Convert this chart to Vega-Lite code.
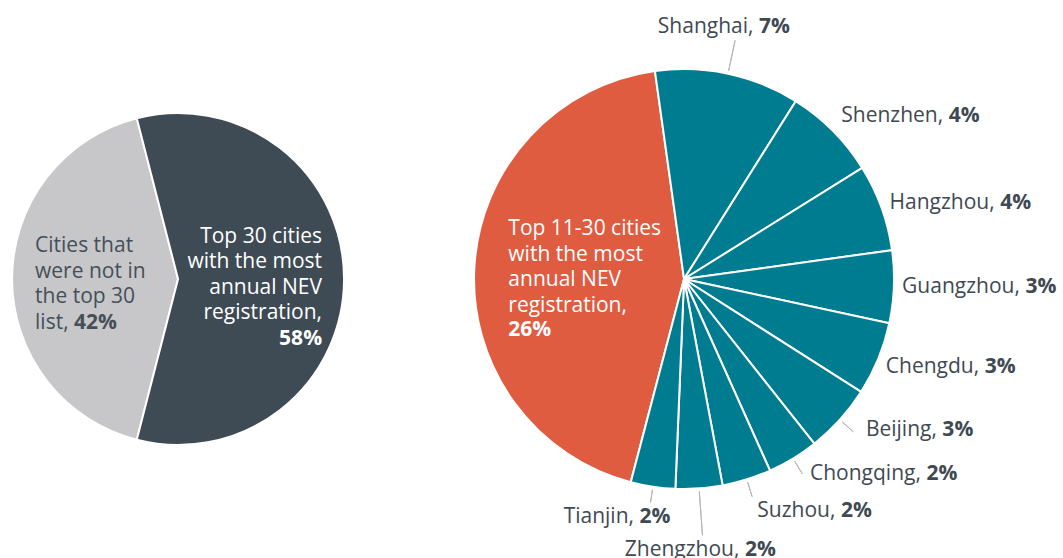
{
  "$schema": "https://vega.github.io/schema/vega-lite/v6.json",
  "width": 1063,
  "height": 558,
  "autosize": {"type": "none"},
  "padding": 0,
  "background": "white",
  "config": {"view": {"stroke": null}, "font": "Open Sans"},
  "params": [
    {"name": "lcx", "expr": "width*0.1675"},
    {"name": "rcx", "expr": "width*0.6435"},
    {"name": "cy", "expr": "height/2"}
  ],
  "datasets": {
    "overall": [
      {"part": "Cities that were not in the top 30 list", "share": 42, "pct": "42%"},
      {"part": "Top 30 cities with the most annual NEV registration", "share": 58, "pct": "58%"}
    ],
    "top30": [
      {"city": "Top 11-30 cities", "share": 25.5, "pct": "26%"},
      {"city": "Shanghai", "share": 6.5, "pct": "7%"},
      {"city": "Shenzhen", "share": 4.2, "pct": "4%"},
      {"city": "Hangzhou", "share": 3.9, "pct": "4%"},
      {"city": "Guangzhou", "share": 3.25, "pct": "3%"},
      {"city": "Chengdu", "share": 3.3, "pct": "3%"},
      {"city": "Beijing", "share": 3.1, "pct": "3%"},
      {"city": "Chongqing", "share": 2.3, "pct": "2%"},
      {"city": "Suzhou", "share": 2.2, "pct": "2%"},
      {"city": "Zhengzhou", "share": 2.1, "pct": "2%"},
      {"city": "Tianjin", "share": 2.0, "pct": "2%"}
    ]
  },
  "resolve": {"scale": {"theta": "independent"}},
  "layer": [
    {
      "data": {"values": [{"edge": "top"}]},
      "mark": {"type": "rule", "stroke": "#c8c8c8", "strokeWidth": 1.5,
        "x": {"expr": "lcx + 166*sin(6.0318)"}, "y": {"expr": "cy - 166*cos(6.0318)"},
        "x2": {"expr": "rcx + 210*sin(6.1441)"}, "y2": {"expr": "cy - 210*cos(6.1441)"}},
      "encoding": {}
    },
    {
      "data": {"values": [{"edge": "bottom"}]},
      "mark": {"type": "rule", "stroke": "#c8c8c8", "strokeWidth": 1.5,
        "x": {"expr": "lcx + 166*sin(3.3929)"}, "y": {"expr": "cy - 166*cos(3.3929)"},
        "x2": {"expr": "rcx + 210*sin(3.3982)"}, "y2": {"expr": "cy - 210*cos(3.3982)"}},
      "encoding": {}
    },
    {
      "data": {"name": "overall"},
      "transform": [{"window": [{"op": "row_number", "as": "rank"}]}],
      "encoding": {
        "theta": {"field": "share", "type": "quantitative", "stack": true, "scale": {"range": [3.3929, 9.6761]}},
        "order": {"field": "rank", "type": "quantitative"},
        "detail": {"field": "part", "type": "nominal"}
      },
      "layer": [
        {
          "mark": {"type": "arc", "radius": 166, "stroke": "white", "strokeWidth": 2, "x": {"expr": "lcx"}, "y": {"expr": "cy"}},
          "encoding": {
            "color": {"condition": {"test": "datum.rank == 1", "value": "#c7c7c9"}, "value": "#3e4a54"}
          }
        },
        {
          "mark": {"type": "text", "text": ["Cities that", "were not in", "the top 30", "list,"], "align": "left", "baseline": "middle",
            "radius": 143, "x": {"expr": "lcx"}, "y": {"expr": "cy"}, "dy": -33, "fontSize": 21, "lineHeight": 25.6, "color": "#454f59"},
          "encoding": {"opacity": {"condition": {"test": "datum.rank == 1", "value": 1}, "value": 0}}
        },
        {
          "mark": {"type": "text", "align": "left", "baseline": "middle", "fontWeight": "bold",
            "radius": 143, "x": {"expr": "lcx"}, "y": {"expr": "cy"}, "dx": 39, "dy": 43.8, "fontSize": 21, "color": "#454f59"},
          "encoding": {"text": {"field": "pct"}, "opacity": {"condition": {"test": "datum.rank == 1", "value": 1}, "value": 0}}
        },
        {
          "mark": {"type": "text", "text": ["Top 30 cities", "with the most", "annual NEV", "registration,"], "align": "right", "baseline": "middle",
            "radius": 144, "x": {"expr": "lcx"}, "y": {"expr": "cy"}, "dy": -42.4, "fontSize": 21, "lineHeight": 25.6, "color": "white"},
          "encoding": {"opacity": {"condition": {"test": "datum.rank == 2", "value": 1}, "value": 0}}
        },
        {
          "mark": {"type": "text", "align": "right", "baseline": "middle", "fontWeight": "bold",
            "radius": 144, "x": {"expr": "lcx"}, "y": {"expr": "cy"}, "dy": 60, "fontSize": 21, "color": "white"},
          "encoding": {"text": {"field": "pct"}, "opacity": {"condition": {"test": "datum.rank == 2", "value": 1}, "value": 0}}
        }
      ]
    },
    {
      "data": {"name": "top30"},
      "transform": [
        {"window": [{"op": "row_number", "as": "rank"}]},
        {"calculate": "datum.city + ','", "as": "name"}
      ],
      "encoding": {
        "theta": {"field": "share", "type": "quantitative", "stack": true, "scale": {"range": [3.3982, 9.6814]}},
        "order": {"field": "rank", "type": "quantitative"},
        "detail": {"field": "city", "type": "nominal"}
      },
      "layer": [
        {
          "mark": {"type": "arc", "radius": 210, "stroke": "white", "strokeWidth": 2, "x": {"expr": "rcx"}, "y": {"expr": "cy"}},
          "encoding": {
            "color": {"condition": {"test": "datum.rank == 1", "value": "#e05c41"}, "value": "#007c91"}
          }
        },
        {
          "mark": {"type": "arc", "radius": 228, "radius2": 213, "padAngle": 2, "fillOpacity": 0, "stroke": "#b5b5b5", "strokeWidth": 1, "x": {"expr": "rcx"}, "y": {"expr": "cy"}},
          "encoding": {"opacity": {"condition": {"test": "indexof(['Beijing','Chongqing','Suzhou'], datum.city) >= 0", "value": 1}, "value": 0}}
        },
        {
          "mark": {"type": "arc", "radius": 244, "radius2": 213, "padAngle": 2, "fillOpacity": 0, "stroke": "#b5b5b5", "strokeWidth": 1, "x": {"expr": "rcx"}, "y": {"expr": "cy"}},
          "encoding": {"opacity": {"condition": {"test": "datum.city == 'Shanghai'", "value": 1}, "value": 0}}
        },
        {
          "mark": {"type": "arc", "radius": 257, "radius2": 213, "padAngle": 2, "fillOpacity": 0, "stroke": "#b5b5b5", "strokeWidth": 1, "x": {"expr": "rcx"}, "y": {"expr": "cy"}},
          "encoding": {"opacity": {"condition": {"test": "datum.city == 'Zhengzhou'", "value": 1}, "value": 0}}
        },
        {
          "mark": {"type": "arc", "radius": 226, "radius2": 213, "padAngle": 2, "fillOpacity": 0, "stroke": "#b5b5b5", "strokeWidth": 1, "x": {"expr": "rcx"}, "y": {"expr": "cy"}},
          "encoding": {"opacity": {"condition": {"test": "datum.city == 'Tianjin'", "value": 1}, "value": 0}}
        },
        {
          "mark": {"type": "text", "text": ["Top 11-30 cities", "with the most", "annual NEV", "registration,"], "align": "left", "baseline": "middle",
            "radius": 176, "x": {"expr": "rcx"}, "y": {"expr": "cy"}, "dy": -39.4, "fontSize": 21, "lineHeight": 25.6, "color": "white"},
          "encoding": {"opacity": {"condition": {"test": "datum.rank == 1", "value": 1}, "value": 0}}
        },
        {
          "mark": {"type": "text", "align": "left", "baseline": "middle", "fontWeight": "bold",
            "radius": 176, "x": {"expr": "rcx"}, "y": {"expr": "cy"}, "dy": 61.3, "fontSize": 21, "color": "white"},
          "encoding": {"text": {"field": "pct"}, "opacity": {"condition": {"test": "datum.rank == 1", "value": 1}, "value": 0}}
        },
        {
          "mark": {"type": "text", "align": "right", "baseline": "middle", "radius": 222, "x": {"expr": "rcx"}, "y": {"expr": "cy"},
            "dx": {"expr": "12.1*length(datum.city) - 6.7*length(replace(datum.city, regexp('[^ijl]', 'g'), '')) + 5.1"},
            "dy": {"expr": "datum.city == 'Shenzhen' ? -6 : datum.city == 'Chengdu' ? 4 : 0"},
            "fontSize": 21, "color": "#3f4952"},
          "encoding": {"text": {"field": "name"}, "opacity": {"condition": {"test": "indexof(['Shenzhen','Hangzhou','Guangzhou','Chengdu'], datum.city) >= 0", "value": 1}, "value": 0}}
        },
        {
          "mark": {"type": "text", "align": "left", "baseline": "middle", "fontWeight": "bold", "radius": 222, "x": {"expr": "rcx"}, "y": {"expr": "cy"},
            "dx": {"expr": "12.1*length(datum.city) - 6.7*length(replace(datum.city, regexp('[^ijl]', 'g'), '')) + 10.6"},
            "dy": {"expr": "datum.city == 'Shenzhen' ? -6 : datum.city == 'Chengdu' ? 4 : 0"},
            "fontSize": 21, "color": "#3f4952"},
          "encoding": {"text": {"field": "pct"}, "opacity": {"condition": {"test": "indexof(['Shenzhen','Hangzhou','Guangzhou','Chengdu'], datum.city) >= 0", "value": 1}, "value": 0}}
        },
        {
          "mark": {"type": "text", "align": "right", "baseline": "middle", "radius": 240, "x": {"expr": "rcx"}, "y": {"expr": "cy"},
            "dx": {"expr": "12.1*length(datum.city) - 6.7*length(replace(datum.city, regexp('[^ijl]', 'g'), '')) + 5.1 + (datum.city == 'Suzhou' ? 2 : 5)"},
            "dy": {"expr": "datum.city == 'Suzhou' ? 3 : -10"},
            "fontSize": 21, "color": "#3f4952"},
          "encoding": {"text": {"field": "name"}, "opacity": {"condition": {"test": "indexof(['Beijing','Chongqing','Suzhou'], datum.city) >= 0", "value": 1}, "value": 0}}
        },
        {
          "mark": {"type": "text", "align": "left", "baseline": "middle", "fontWeight": "bold", "radius": 240, "x": {"expr": "rcx"}, "y": {"expr": "cy"},
            "dx": {"expr": "12.1*length(datum.city) - 6.7*length(replace(datum.city, regexp('[^ijl]', 'g'), '')) + 10.6 + (datum.city == 'Suzhou' ? 2 : 5)"},
            "dy": {"expr": "datum.city == 'Suzhou' ? 3 : -10"},
            "fontSize": 21, "color": "#3f4952"},
          "encoding": {"text": {"field": "pct"}, "opacity": {"condition": {"test": "indexof(['Beijing','Chongqing','Suzhou'], datum.city) >= 0", "value": 1}, "value": 0}}
        },
        {
          "mark": {"type": "text", "align": "right", "baseline": "middle", "radius": 258, "x": {"expr": "rcx"}, "y": {"expr": "cy"},
            "dx": {"expr": "(12.1*length(datum.city) - 6.7*length(replace(datum.city, regexp('[^ijl]', 'g'), '')) + 5.1 - 36.3)/2 - 14"},
            "fontSize": 21, "color": "#3f4952"},
          "encoding": {"text": {"field": "name"}, "opacity": {"condition": {"test": "datum.city == 'Shanghai'", "value": 1}, "value": 0}}
        },
        {
          "mark": {"type": "text", "align": "left", "baseline": "middle", "fontWeight": "bold", "radius": 258, "x": {"expr": "rcx"}, "y": {"expr": "cy"},
            "dx": {"expr": "(12.1*length(datum.city) - 6.7*length(replace(datum.city, regexp('[^ijl]', 'g'), '')) + 5.1 - 36.3)/2 - 8.5"},
            "fontSize": 21, "color": "#3f4952"},
          "encoding": {"text": {"field": "pct"}, "opacity": {"condition": {"test": "datum.city == 'Shanghai'", "value": 1}, "value": 0}}
        },
        {
          "mark": {"type": "text", "align": "right", "baseline": "middle", "radius": 272, "x": {"expr": "rcx"}, "y": {"expr": "cy"},
            "dx": {"expr": "(12.1*length(datum.city) - 6.7*length(replace(datum.city, regexp('[^ijl]', 'g'), '')) + 5.1 - 36.3)/2 - 3"},
            "fontSize": 21, "color": "#3f4952"},
          "encoding": {"text": {"field": "name"}, "opacity": {"condition": {"test": "datum.city == 'Zhengzhou'", "value": 1}, "value": 0}}
        },
        {
          "mark": {"type": "text", "align": "left", "baseline": "middle", "fontWeight": "bold", "radius": 272, "x": {"expr": "rcx"}, "y": {"expr": "cy"},
            "dx": {"expr": "(12.1*length(datum.city) - 6.7*length(replace(datum.city, regexp('[^ijl]', 'g'), '')) + 5.1 - 36.3)/2 + 2.5"},
            "fontSize": 21, "color": "#3f4952"},
          "encoding": {"text": {"field": "pct"}, "opacity": {"condition": {"test": "datum.city == 'Zhengzhou'", "value": 1}, "value": 0}}
        },
        {
          "mark": {"type": "text", "align": "right", "baseline": "middle", "radius": 241, "x": {"expr": "rcx"}, "y": {"expr": "cy"},
            "dx": {"expr": "(12.1*length(datum.city) - 6.7*length(replace(datum.city, regexp('[^ijl]', 'g'), '')) + 5.1 - 36.3)/2 - 31"},
            "fontSize": 21, "color": "#3f4952"},
          "encoding": {"text": {"field": "name"}, "opacity": {"condition": {"test": "datum.city == 'Tianjin'", "value": 1}, "value": 0}}
        },
        {
          "mark": {"type": "text", "align": "left", "baseline": "middle", "fontWeight": "bold", "radius": 241, "x": {"expr": "rcx"}, "y": {"expr": "cy"},
            "dx": {"expr": "(12.1*length(datum.city) - 6.7*length(replace(datum.city, regexp('[^ijl]', 'g'), '')) + 5.1 - 36.3)/2 - 25.5"},
            "fontSize": 21, "color": "#3f4952"},
          "encoding": {"text": {"field": "pct"}, "opacity": {"condition": {"test": "datum.city == 'Tianjin'", "value": 1}, "value": 0}}
        }
      ]
    }
  ]
}
